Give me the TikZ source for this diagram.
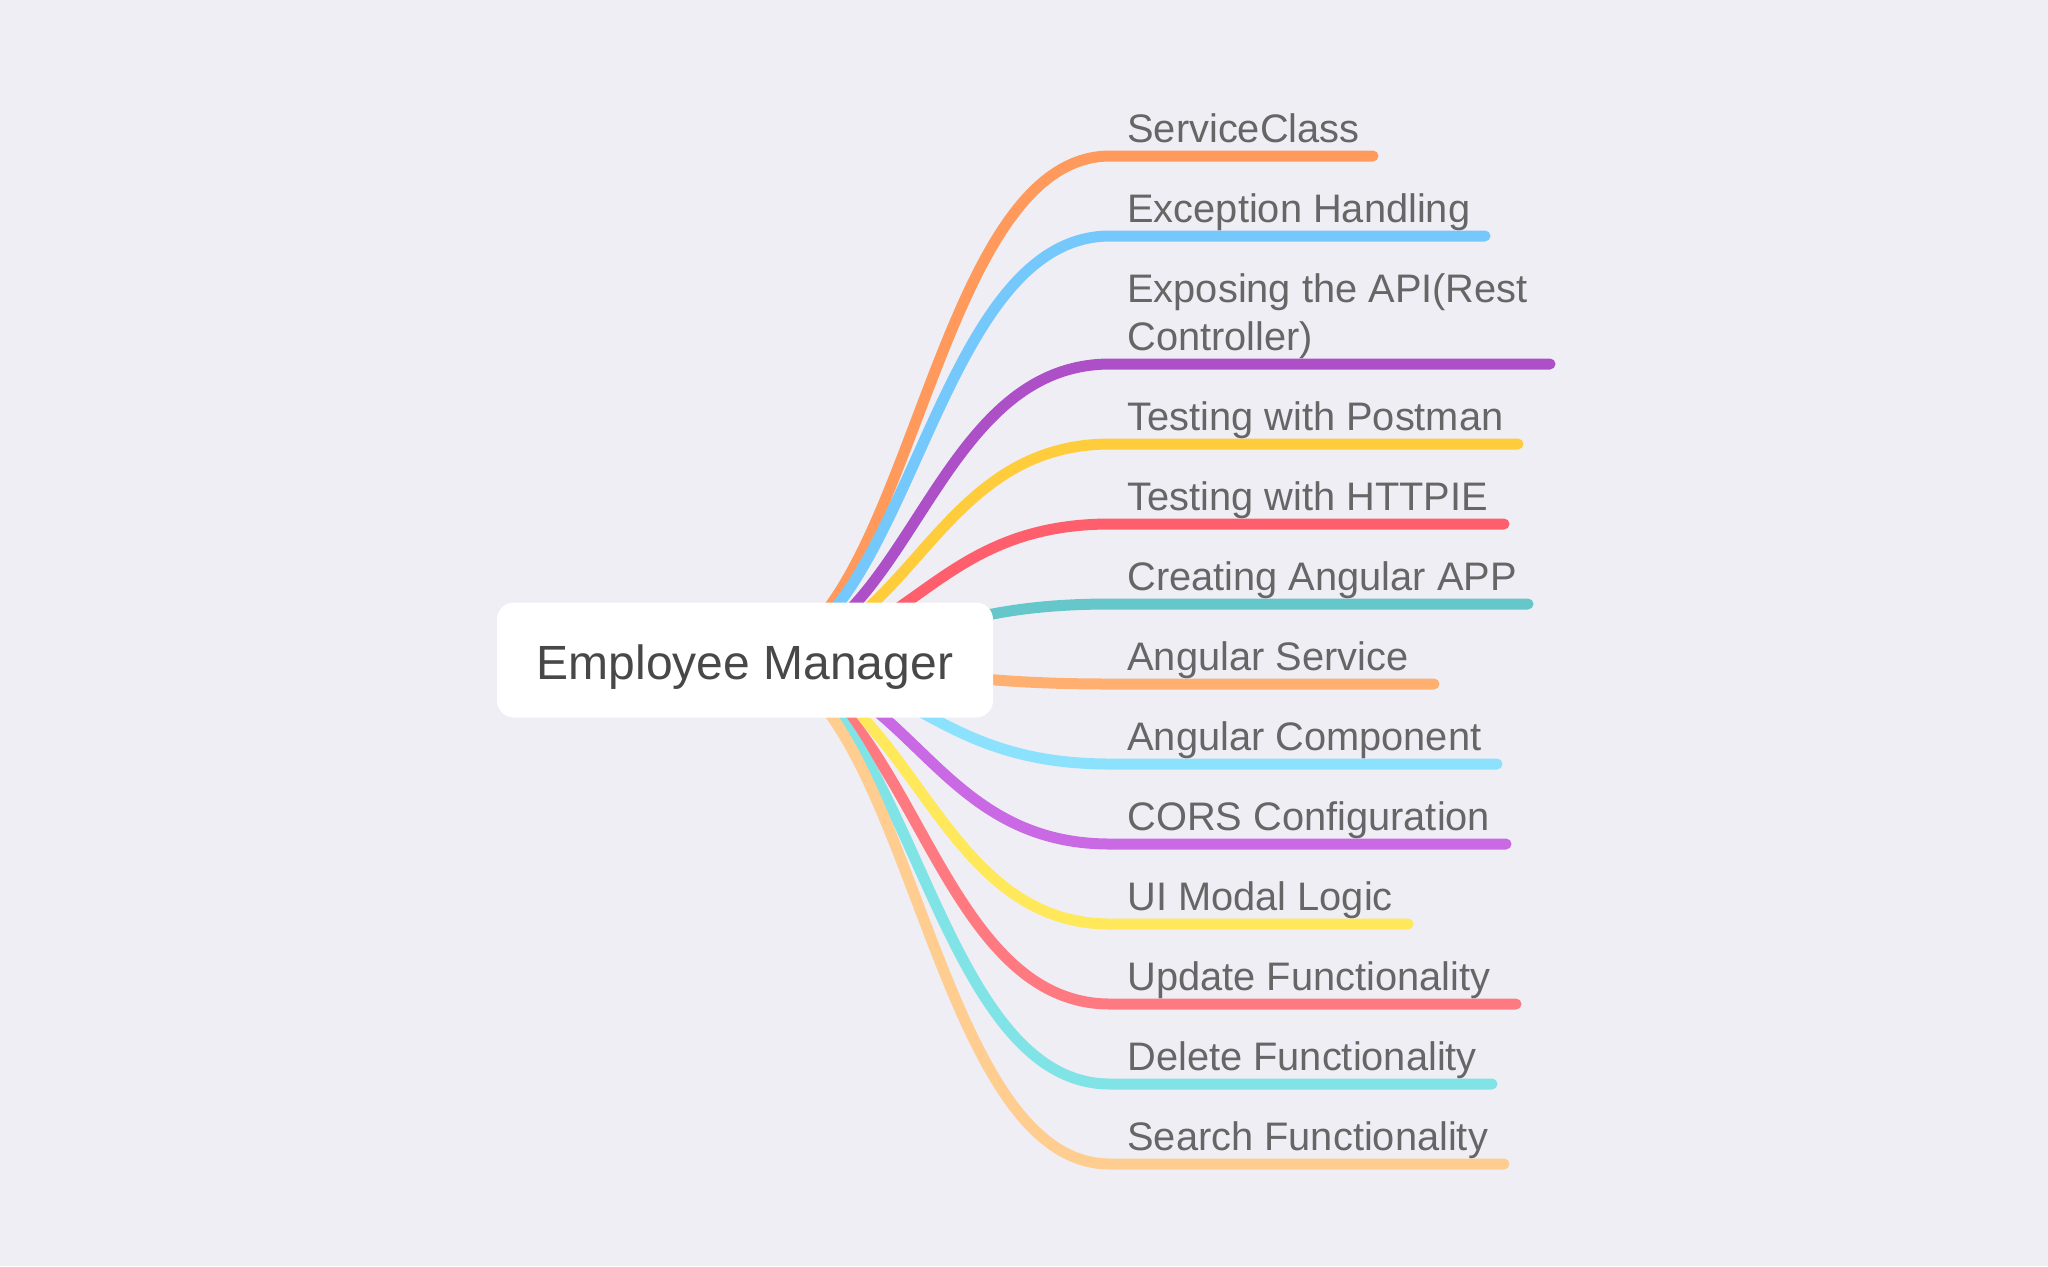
\documentclass[tikz,border=0pt]{standalone}
\usepackage{fontspec}
\setmainfont{Liberation Sans}
\pgfdeclarelayer{bg}
\pgfdeclarelayer{links}
\pgfsetlayers{bg,links,main}
\definecolor{bgc}{HTML}{EFEEF5}
\definecolor{lblc}{HTML}{666666}
\definecolor{rootc}{HTML}{484848}
\definecolor{c1}{HTML}{FF9A5C}
\definecolor{c2}{HTML}{74C8FC}
\definecolor{c3}{HTML}{AD4FC7}
\definecolor{c4}{HTML}{FFCD3C}
\definecolor{c5}{HTML}{FF5E6C}
\definecolor{c6}{HTML}{66C7CB}
\definecolor{c7}{HTML}{FFB071}
\definecolor{c8}{HTML}{8CE2FD}
\definecolor{c9}{HTML}{C969E4}
\definecolor{c10}{HTML}{FFE85A}
\definecolor{c11}{HTML}{FF7A80}
\definecolor{c12}{HTML}{80E3E6}
\definecolor{c13}{HTML}{FFCD8F}
\begin{document}
\begin{tikzpicture}[x=0.5pt,y=-0.5pt,
  link/.style={line width=5.5pt, line cap=round},
  lbl/.style={anchor=base west, inner sep=0pt, text=lblc, align=left,
    font=\fontsize{19.9}{24}\selectfont},
  rootbox/.style={fill=white, rounded corners=8.5pt, minimum width=248pt,
    minimum height=57.5pt, inner sep=0pt, text=rootc,
    font=\fontsize{24}{28}\selectfont, text height=19.8pt, text depth=0pt}]
\useasboundingbox (0,0) rectangle (2048,1266);
\begin{pgfonlayer}{bg}
  \fill[bgc] (0,0) rectangle (2048,1266);
\end{pgfonlayer}
\node[rootbox] (root) at (745,660) {Employee Manager};
\coordinate (cs) at (910,660);
\coordinate (ct) at (927.5,660);
\foreach \i/\y/\e/\t in {
  1/156/1373/{ServiceClass},
  2/236/1485/{Exception Handling},
  3/364/1550/{Exposing the API(Rest\\Controller)},
  4/444/1518/{Testing with Postman},
  5/524/1504/{Testing with HTTPIE},
  6/604/1528/{Creating Angular APP},
  7/684/1434/{Angular Service},
  8/764/1497/{Angular Component},
  9/844/1506/{CORS Configuration},
  10/924/1408/{UI Modal Logic},
  11/1004/1516/{Update Functionality},
  12/1084/1492/{Delete Functionality},
  13/1164/1504/{Search Functionality}}{
  \coordinate (h\i) at (1110,\y);
  \coordinate (e\i) at (\e,\y);
  \node[lbl] (t\i) at (1127,{\y-14}) {\t};
  \begin{pgfonlayer}{links}
    \draw[link, c\i] (root.center) .. controls (cs) and (ct |- h\i) .. (h\i) -- (e\i);
  \end{pgfonlayer}
}
\end{tikzpicture}
\end{document}
